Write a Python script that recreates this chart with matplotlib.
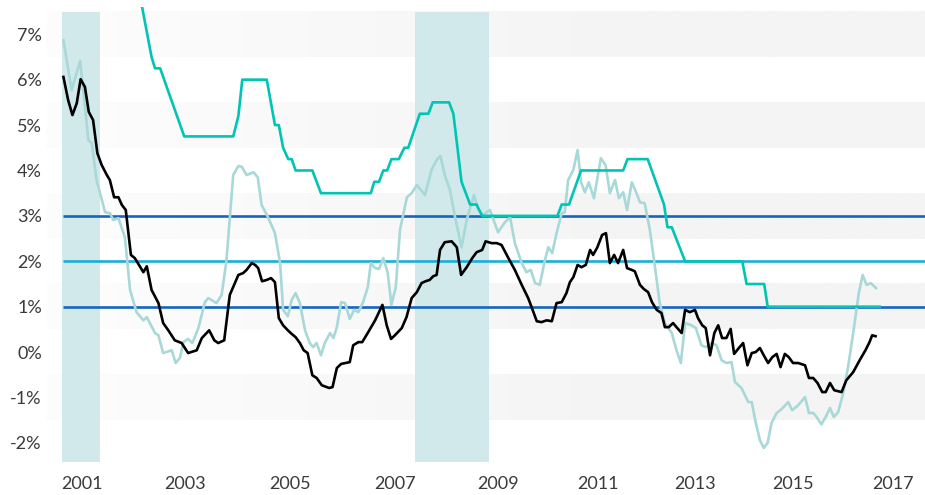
import matplotlib.pyplot as plt
import numpy as np
from matplotlib.colors import LinearSegmentedColormap

# x values are months since January 2001
headlineMonths = [
    0.1, 2.0, 4.0, 5.9, 6.7, 7.8, 9.8, 10.9, 11.7, 12.9, 14.4, 15.6, 17.1, 18.7,
    19.5, 21.4, 22.2, 23.3, 25.3, 26.2, 27.2, 28.0, 29.1, 30.1, 31.5, 33.0, 33.8,
    35.7, 36.9, 38.0, 39.0, 39.6, 40.8, 41.6, 42.7, 44.3, 45.3, 46.2, 47.7, 49.3,
    50.5, 51.2, 52.3, 53.2, 54.1, 55.1, 56.3, 57.4, 58.2, 59.0, 60.0, 60.9, 62.1,
    62.9, 63.7, 64.7, 65.6, 66.7, 67.7, 68.7, 69.8, 70.9, 71.6, 72.6, 73.5, 74.5,
    75.5, 76.4, 77.4, 78.4, 80.0, 81.1, 82.3, 84.2, 85.7, 86.9, 87.8, 88.8, 90.0,
    91.2, 92.7, 93.9, 95.6, 96.6, 97.7, 99.3, 101.2, 102.8, 104.0, 105.1, 106.7,
    107.8, 108.8, 109.8, 110.9, 112.1, 112.9, 113.8, 114.8, 116.0, 116.7, 117.5,
    118.7, 119.7, 120.5, 121.4, 122.3, 123.5, 125.1, 126.2, 127.2, 128.4, 129.3,
    130.3, 131.2, 132.3, 133.4, 134.2, 135.3, 136.5, 137.7, 138.8, 140.0, 141.6,
    142.7, 143.7, 144.7, 146.2, 147.2, 148.5, 149.5, 150.9, 152.0, 153.2, 154.3,
    155.5, 156.3, 157.8, 159.4, 160.2, 161.1, 162.1, 163.0, 163.9, 164.8, 166.0,
    167.1, 168.7, 169.6, 171.0, 172.6, 173.5, 174.5, 175.3, 176.4, 177.4, 178.4,
    179.3, 180.3, 181.5, 182.6, 183.8, 185.1, 186.0, 186.9, 187.9, 189.1,
]
headlineRate = [
    6.87, 5.77, 6.41, 4.67, 4.60, 3.79, 3.08, 3.06, 2.91, 2.95, 2.53, 1.37, 0.88, 0.70,
    0.77, 0.42, 0.37, -0.02, 0.04, -0.24, -0.13, 0.22, 0.29, 0.20, 0.53, 1.10, 1.19,
    1.08, 1.26, 2.00, 3.20, 3.90, 4.10, 4.08, 3.90, 3.96, 3.85, 3.24, 2.97, 2.62,
    1.96, 0.93, 0.79, 1.15, 1.30, 1.08, 0.48, 0.20, 0.11, 0.20, -0.07, 0.20, 0.42,
    0.31, 0.55, 1.10, 1.08, 0.73, 0.93, 0.88, 1.10, 1.43, 1.96, 1.85, 1.83, 2.07,
    1.76, 1.04, 1.43, 2.70, 3.41, 3.50, 3.68, 3.46, 4.01, 4.23, 4.32, 3.90, 3.57,
    2.97, 2.31, 2.91, 3.46, 3.13, 3.02, 3.13, 2.64, 2.86, 2.97, 2.40, 1.96,
    1.76, 1.81, 1.52, 1.48, 2.03, 2.31, 2.18, 2.62, 3.06, 3.08, 3.79,
    4.01, 4.45, 3.74, 3.52, 3.74, 3.39, 4.27, 4.12, 3.50, 3.79, 3.39,
    3.52, 3.13, 3.74, 3.50, 3.30, 3.28, 2.69, 1.87, 1.08, 0.64, 0.42,
    0.04, -0.24, 0.64, 0.59, 0.53, 0.15, 0.11, 0.20, 0.15, -0.18, -0.24,
    -0.22, -0.66, -0.79, -1.10, -1.10, -1.54, -1.94, -2.11, -2.00, -1.56, -1.34,
    -1.26, -1.10, -1.28, -1.17, -0.99, -1.34, -1.34, -1.43, -1.59, -1.43, -1.23,
    -1.43, -1.32, -0.90, -0.33, 0.42, 1.30, 1.70, 1.48, 1.52, 1.41,
]

coreMonths = [
    0.1, 1.2, 2.2, 3.2, 4.1, 5.1, 6.0, 7.0, 8.0, 9.0, 10.2, 10.9, 11.9, 12.9, 13.7,
    14.6, 15.8, 16.7, 18.7, 19.5, 20.6, 22.2, 23.3, 24.5, 26.0, 27.6, 29.1, 31.1,
    32.3, 34.0, 35.2, 36.1, 37.5, 38.8, 40.8, 41.9, 42.7, 43.9, 44.7, 45.4, 46.3,
    47.4, 48.4, 49.3, 50.2, 51.2, 52.3, 53.2, 54.1, 55.1, 56.0, 56.9, 58.0, 59.0,
    60.2, 61.9, 62.7, 63.7, 64.7, 65.7, 66.7, 67.5, 68.7, 69.6, 71.0, 72.6, 74.3,
    75.3, 76.3, 77.2, 78.8, 79.9, 81.1, 82.3, 83.4, 84.3, 85.3, 86.1, 86.9, 87.7,
    88.8, 90.4, 91.6, 92.6, 93.9, 95.2, 96.2, 97.5, 98.3, 99.7, 100.9, 102.0,
    103.6, 105.1, 106.7, 108.2, 109.0, 110.2, 111.3, 112.5, 113.7, 114.8, 116.0,
    117.1, 117.9, 118.7, 119.7, 120.6, 121.6, 122.6, 123.3, 124.3, 125.4, 126.3,
    127.2, 128.2, 129.1, 130.3, 131.2, 132.3, 133.0, 134.2, 135.1, 136.1, 137.0,
    138.1, 139.2, 140.0, 140.9, 141.9, 142.7, 143.9, 144.7, 145.8, 147.0, 147.7,
    148.7, 149.5, 150.5, 151.5, 152.4, 153.3, 154.3, 155.3, 156.1, 157.2, 158.2,
    159.2, 160.2, 161.1, 162.1, 163.0, 164.0, 165.0, 166.0, 166.9, 167.9, 168.8,
    169.8, 171.0, 172.6, 173.5, 174.5, 175.5, 176.6, 177.4, 178.4, 179.4, 181.1,
    182.2, 183.8, 185.3, 186.7, 187.6, 188.2, 189.0,
]
coreRate = [
    6.06, 5.55, 5.22, 5.48, 6.01, 5.84, 5.29, 5.11, 4.38, 4.12, 3.90, 3.79, 3.41, 3.41, 3.24,
    3.13, 2.14, 2.07, 1.76, 1.89, 1.37, 1.08, 0.64, 0.48, 0.26, 0.20, -0.02, 0.04,
    0.31, 0.48, 0.26, 0.20, 0.26, 1.26, 1.70, 1.74, 1.81, 1.96, 1.92, 1.85, 1.56,
    1.59, 1.63, 1.54, 0.75, 0.59, 0.48, 0.40, 0.33, 0.20, 0.04, -0.02, -0.51, -0.57,
    -0.73, -0.79, -0.77, -0.35, -0.26, -0.24, -0.22, 0.15, 0.22, 0.22, 0.44, 0.70, 1.04,
    0.59, 0.29, 0.37, 0.53, 0.77, 1.19, 1.32, 1.52, 1.56, 1.59, 1.67, 1.70, 2.25,
    2.42, 2.44, 2.31, 1.70, 1.87, 2.07, 2.20, 2.25, 2.44, 2.40, 2.40, 2.36,
    2.07, 1.81, 1.48, 1.19, 0.99, 0.68, 0.66, 0.70, 0.68, 1.08, 1.10,
    1.30, 1.54, 1.65, 1.92, 1.87, 1.92, 2.25, 2.14, 2.31, 2.58, 2.62,
    1.96, 2.14, 1.96, 2.25, 1.85, 1.81, 1.78, 1.48, 1.39, 1.32, 1.10,
    0.93, 0.86, 0.55, 0.55, 0.64, 0.55, 0.42, 0.93, 0.88, 0.93, 0.75,
    0.59, 0.53, -0.07, 0.42, 0.59, 0.31, 0.31, 0.51, -0.04, 0.09, 0.20,
    -0.29, -0.02, 0.00, 0.09, -0.07, -0.24, -0.11, -0.04, -0.33, -0.04, -0.11,
    -0.24, -0.24, -0.29, -0.57, -0.57, -0.68, -0.88, -0.88, -0.68, -0.84, -0.88,
    -0.62, -0.44, -0.18, 0.05, 0.22, 0.37, 0.35,
]

policyMonths = [
    18.0, 20.6, 21.4, 22.6, 28.2, 39.6, 40.8, 41.7, 47.4, 49.3, 50.2, 51.2, 52.4,
    53.2, 54.1, 58.0, 60.0, 71.6, 72.4, 73.5, 74.5, 75.4, 76.4, 78.1, 79.4, 80.3,
    83.0, 85.0, 86.0, 89.8, 90.8, 92.7, 94.7, 96.2, 97.5, 115.0, 116.0, 117.7,
    120.5, 130.3, 131.3, 136.0, 139.8, 140.6, 141.6, 144.7, 158.0, 159.0, 163.1,
    163.9, 190.0,
]
policyRate = [
    7.80, 6.50, 6.25, 6.25, 4.75, 4.75, 5.20, 6.00, 6.00, 5.00, 5.00, 4.50, 4.25,
    4.25, 4.00, 4.00, 3.50, 3.50, 3.75, 3.75, 4.00, 4.00, 4.25, 4.25, 4.50, 4.50,
    5.25, 5.25, 5.50, 5.50, 5.25, 3.75, 3.25, 3.25, 3.00, 3.00, 3.25, 3.25,
    4.00, 4.00, 4.25, 4.25, 3.25, 2.75, 2.75, 2.00, 2.00, 1.50, 1.50,
    1.00, 1.00,
]

recessions = [(-0.2, 8.6), (81.9, 99.1)]
targetLevels = [3, 2, 1]
bandRanges = [(6.5, 7.5), (4.5, 5.5), (2.5, 3.5), (0.5, 1.5), (-1.5, -0.5)]
yearLabels = ['2001', '2003', '2005', '2007', '2009', '2011', '2013', '2015', '2017']
yearTickMonths = [4.4, 28.4, 52.8, 77.2, 101.2, 124.4, 147.0, 169.8, 193.0]
percentTicks = [-2, -1, 0, 1, 2, 3, 4, 5, 6, 7]

xLeft, xRight = -3.95, 200.5
yBottom, yTop = -2.42, 7.60

fig = plt.figure(figsize=(9.25, 4.95), dpi=100)
ax = fig.add_axes([46 / 925, 33 / 495, 1 - 46 / 925, 455 / 495])

# faded grey bands, getting stronger towards the right
bandCmap = LinearSegmentedColormap.from_list('band', ['#fdfdfd', '#f4f4f4'])
gradX = np.linspace(xLeft, xRight, 400)
grad = np.clip((gradX - xLeft) / (134.0 - xLeft), 0, 1)[np.newaxis, :]
for lo, hi in bandRanges:
    ax.imshow(grad, extent=[xLeft, xRight, lo, hi], cmap=bandCmap, vmin=0, vmax=1,
              aspect='auto', interpolation='bilinear', zorder=0)

for start, end in recessions:
    ax.fill_between([start, end], yBottom, 7.5, color='#d1e9ea', lw=0, zorder=1)

targetColors = {3: '#1565c0', 2: '#1aaed8', 1: '#1565c0'}
for level in targetLevels:
    ax.hlines(level, 0, xRight, color=targetColors[level], lw=1.9, zorder=2)

ax.plot(headlineMonths, headlineRate, color='#a8d8d8', lw=1.9, zorder=3)
ax.plot(policyMonths, policyRate, color='#00c4b4', lw=1.9, zorder=4)
ax.plot(coreMonths, coreRate, color='black', lw=1.9, zorder=5)

ax.set_xlim(xLeft, xRight)
ax.set_ylim(yBottom, yTop)

ax.set_xticks(yearTickMonths)
ax.set_xticklabels(yearLabels)
ax.set_yticks(percentTicks)
ax.set_yticklabels([f'{p}%' for p in percentTicks])

for side in ['top', 'right', 'bottom', 'left']:
    ax.spines[side].set_visible(False)
ax.tick_params(length=0, labelsize=13, labelcolor='#3a3a3a')
ax.tick_params(axis='x', pad=10)
ax.tick_params(axis='y', pad=3)
for label in ax.get_xticklabels() + ax.get_yticklabels():
    label.set_fontfamily('Lato')

fig.savefig('out.png', dpi=100)
